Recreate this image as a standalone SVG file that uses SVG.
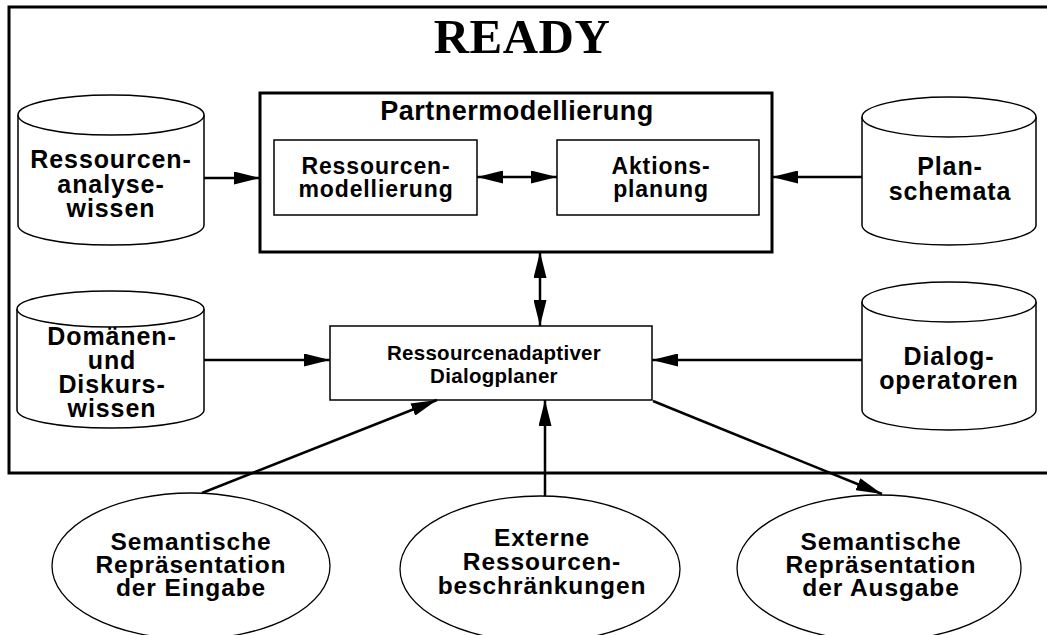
<svg xmlns="http://www.w3.org/2000/svg" width="1047" height="635" viewBox="0 0 1047 635">
<style>
.bg{fill:#fff}
.frame{fill:none;stroke:#000;stroke-width:3}
.thick{fill:#fff;stroke:#000;stroke-width:3}
.box{fill:#fff;stroke:#000;stroke-width:1.5}
.cyl{fill:#fff;stroke:#000;stroke-width:1.5}
.ell{fill:#fff;stroke:#000;stroke-width:1.3}
.con{fill:none;stroke:#000;stroke-width:2.5}
text{font-family:"Liberation Sans",Arial,sans-serif;font-weight:bold;fill:#000;text-anchor:middle}
.tc{font-size:25px;letter-spacing:0.9px}
.te{font-size:24.5px;letter-spacing:0.9px}
.ti{font-size:23px;letter-spacing:0.9px}
.td{font-size:20.5px;letter-spacing:0.3px}
.tp{font-size:27px;letter-spacing:0.5px}
.title{font-family:"Liberation Serif","Times New Roman",serif;font-size:49px;letter-spacing:0.5px}
</style>
<defs>
<marker id="ah" markerUnits="userSpaceOnUse" markerWidth="27" markerHeight="13" refX="26" refY="6.5" orient="auto-start-reverse" viewBox="0 0 27 13">
<path d="M0,0 L26,6.5 L0,13 z" fill="#000"/>
</marker>
</defs>
<rect class="bg" x="0" y="0" width="1047" height="635"/>
<rect class="frame" x="9" y="7" width="1060" height="466"/>
<text class="title" x="522" y="53">READY</text>

<g id="partner">
<rect class="thick" x="260" y="93" width="512" height="159"/>
<text class="tp" x="517" y="120">Partnermodellierung</text>
</g>
<g id="ressourcenmodellierung">
<rect class="box" x="274" y="140" width="203" height="75"/>
<text class="ti"><tspan x="376" y="174">Ressourcen-</tspan><tspan x="376" y="197">modellierung</tspan></text>
</g>
<g id="aktionsplanung">
<rect class="box" x="557" y="140" width="202" height="75"/>
<text class="ti"><tspan x="661" y="174">Aktions-</tspan><tspan x="661" y="197">planung</tspan></text>
</g>
<g id="dialogplaner">
<rect class="box" x="330" y="326" width="322" height="74"/>
<text class="td"><tspan x="494" y="360">Ressourcenadaptiver</tspan><tspan x="494" y="383">Dialogplaner</tspan></text>
</g>

<g id="cyl-analyse">
<path class="cyl" d="M18,115 V225 A93,20 0 0 0 204,225 V115"/>
<ellipse class="cyl" cx="111" cy="115" rx="93" ry="20"/>
<text class="tc"><tspan x="111" y="168">Ressourcen-</tspan><tspan x="111" y="193">analyse-</tspan><tspan x="111" y="217">wissen</tspan></text>
</g>
<g id="cyl-plan">
<path class="cyl" d="M862,117 V225 A87,20 0 0 0 1036,225 V117"/>
<ellipse class="cyl" cx="949" cy="117" rx="87" ry="20"/>
<text class="tc"><tspan x="950" y="175">Plan-</tspan><tspan x="950" y="200">schemata</tspan></text>
</g>
<g id="cyl-domaenen">
<path class="cyl" d="M17,309 V410 A93.5,18 0 0 0 204,410 V309"/>
<ellipse class="cyl" cx="110.5" cy="309" rx="93.5" ry="18"/>
<text class="tc"><tspan x="112" y="345">Domänen-</tspan><tspan x="112" y="369">und</tspan><tspan x="112" y="393">Diskurs-</tspan><tspan x="112" y="417">wissen</tspan></text>
</g>
<g id="cyl-dialogop">
<path class="cyl" d="M862,302 V410 A87,20 0 0 0 1036,410 V302"/>
<ellipse class="cyl" cx="949" cy="302" rx="87" ry="20"/>
<text class="tc"><tspan x="949" y="365">Dialog-</tspan><tspan x="949" y="389">operatoren</tspan></text>
</g>

<g id="ell-eingabe">
<ellipse class="ell" cx="191" cy="566" rx="139" ry="73"/>
<text class="te"><tspan x="191" y="550">Semantische</tspan><tspan x="191" y="573">Repräsentation</tspan><tspan x="191" y="596">der Eingabe</tspan></text>
</g>
<g id="ell-extern">
<ellipse class="ell" cx="540" cy="569" rx="140" ry="73"/>
<text class="te"><tspan x="542" y="546">Externe</tspan><tspan x="542" y="570">Ressourcen-</tspan><tspan x="542" y="594">beschränkungen</tspan></text>
</g>
<g id="ell-ausgabe">
<ellipse class="ell" cx="879" cy="568" rx="142" ry="73"/>
<text class="te"><tspan x="881" y="550">Semantische</tspan><tspan x="881" y="573">Repräsentation</tspan><tspan x="881" y="596">der Ausgabe</tspan></text>
</g>

<g id="connectors">
<line class="con" x1="204" y1="178" x2="260" y2="178" marker-end="url(#ah)"/>
<line class="con" x1="862" y1="177" x2="772" y2="177" marker-end="url(#ah)"/>
<line class="con" x1="477" y1="177" x2="557" y2="177" marker-start="url(#ah)" marker-end="url(#ah)"/>
<line class="con" x1="540" y1="252" x2="540" y2="326" marker-start="url(#ah)" marker-end="url(#ah)"/>
<line class="con" x1="204" y1="360" x2="330" y2="360" marker-end="url(#ah)"/>
<line class="con" x1="862" y1="360" x2="652" y2="360" marker-end="url(#ah)"/>
<line class="con" x1="202" y1="493" x2="437" y2="400" marker-end="url(#ah)"/>
<line class="con" x1="545" y1="496" x2="545" y2="400" marker-end="url(#ah)"/>
<line class="con" x1="653" y1="401" x2="882" y2="494" marker-end="url(#ah)"/>
</g>
</svg>
